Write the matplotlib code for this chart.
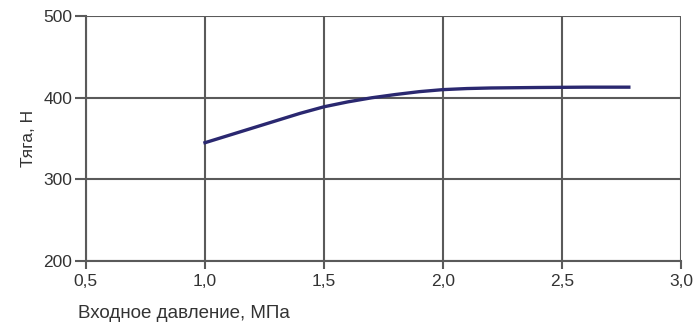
import numpy as np
import matplotlib.pyplot as plt
from matplotlib.ticker import FuncFormatter

plt.rcParams['font.family'] = ['Liberation Sans', 'DejaVu Sans']

# входное давление, МПа / тяга, Н
pressure = [1.0, 1.1, 1.2, 1.3, 1.4, 1.5, 1.6, 1.7, 1.8, 1.9, 2.0, 2.1, 2.2, 2.4, 2.6, 2.78]
thrust = [345, 354, 363, 372, 381, 389, 395, 400, 404, 407.5, 410, 411.3, 412, 412.6, 413, 413]

x_ticks = [0.5, 1.0, 1.5, 2.0, 2.5, 3.0]
y_ticks = [200, 300, 400, 500]

fig = plt.figure(figsize=(6.93, 3.22), dpi=100)
ax = fig.add_axes([0.124, 0.189, 0.859, 0.761])

ax.plot(pressure, thrust, color='#2a2870', lw=2.4, zorder=3)

ax.set_xlim(0.5, 3.0)
ax.set_ylim(200, 500)
ax.set_xticks(x_ticks)
ax.set_yticks(y_ticks)
ax.xaxis.set_major_formatter(FuncFormatter(lambda v, p: f"{v:.1f}".replace('.', ',')))
ax.grid(True, color='#5a5a5a', lw=1.5)
ax.set_axisbelow(True)
for s in ['top', 'right']:
    ax.spines[s].set_visible(False)
for s in ['left', 'bottom']:
    ax.spines[s].set_color('#5a5a5a')
    ax.spines[s].set_linewidth(1.5)
ax.tick_params(colors='#5a5a5a', width=1.5, labelsize=12.5, labelcolor='#333333')
ax.tick_params(axis='y', length=8, pad=2)
ax.tick_params(axis='x', length=6, pad=3)

ax.set_ylabel('Тяга, Н', fontsize=12.5, color='#333333', labelpad=5)
fig.text(0.1125, 0.012, 'Входное давление, МПа', fontsize=13.5, color='#333333', va='baseline')

fig.savefig('out.png', dpi=100)
